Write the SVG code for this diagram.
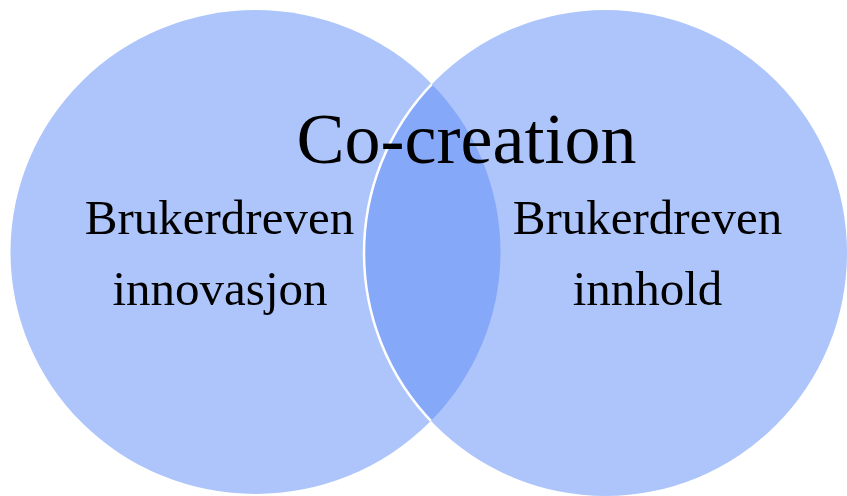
<svg xmlns="http://www.w3.org/2000/svg" width="847" height="496" viewBox="0 0 847 496">
<style>
.set{fill:#ADC5FA;}
.ov{fill:#86A8F8;}
.lbl{font-family:"Liberation Serif","Times New Roman",serif;fill:#000;text-anchor:middle;}
</style>
<defs>
<clipPath id="clipLeft"><ellipse cx="255.5" cy="252" rx="245" ry="242"/></clipPath>
</defs>
<rect width="847" height="496" fill="#fff"/>
<g id="left-set">
<ellipse class="set" cx="255.5" cy="252" rx="245" ry="242"/>
</g>
<g id="right-set">
<ellipse class="set" cx="605.5" cy="253" rx="241.5" ry="243"/>
</g>
<g id="overlap" clip-path="url(#clipLeft)">
<ellipse class="ov" cx="605.5" cy="253" rx="241.5" ry="243"/>
<ellipse cx="605.5" cy="253" rx="241.5" ry="243" fill="none" stroke="#fff" stroke-width="2.5"/>
</g>
<g id="labels">
<text class="lbl" x="466.5" y="163" font-size="72">Co-creation</text>
<text class="lbl" x="219.5" y="234" font-size="49">Brukerdreven</text>
<text class="lbl" x="220" y="305" font-size="49">innovasjon</text>
<text class="lbl" x="647.5" y="234" font-size="49">Brukerdreven</text>
<text class="lbl" x="647.5" y="305" font-size="49">innhold</text>
</g>
</svg>
